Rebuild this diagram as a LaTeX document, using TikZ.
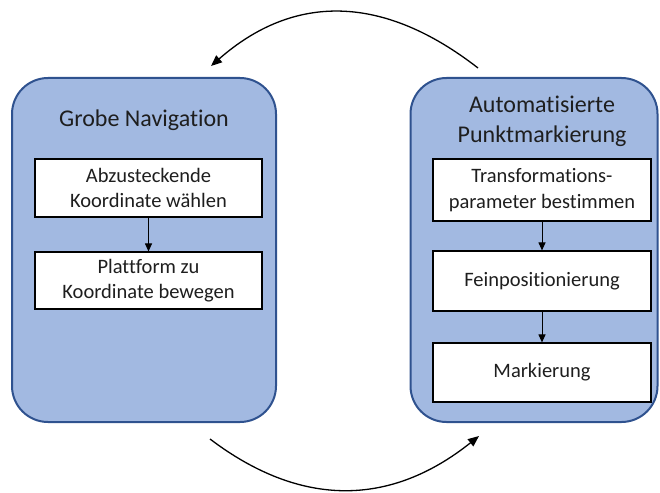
\documentclass[tikz,border=0pt]{standalone}
\usepackage{fontspec}
\setmainfont{Carlito}[Ligatures={NoCommon}]
\usetikzlibrary{arrows.meta}
\definecolor{contfill}{RGB}{162,185,225}
\definecolor{contdraw}{RGB}{47,82,143}
\definecolor{txt}{RGB}{30,30,30}
\tikzset{
  container/.style={draw=contdraw, line width=2pt, fill=contfill, rounded corners=36pt, inner sep=0pt},
  stepbox/.style={draw=black, line width=1.1pt, fill=white, inner sep=0pt, align=center, text=txt,
    font=\fontsize{20.5}{25.5}\selectfont},
  titletext/.style={align=center, text=txt, font=\fontsize{24}{30}\selectfont},
  inarrow/.style={draw=black, line width=1pt, -{Triangle[length=8pt,width=7pt]}},
  cyclearrow/.style={draw=black, line width=1.3pt, -{Triangle[length=11pt,width=9pt]}}
}
\begin{document}
\begin{tikzpicture}[x=1pt,y=-1pt]
\useasboundingbox (0,0) rectangle (660,492);
% containers
\node[container, minimum width=264pt, minimum height=344pt] (lc) at (144,250) {};
\node[container, minimum width=247pt, minimum height=344pt] (rc) at (534,250) {};
% titles
\node[titletext] (lt) at (144,120) {Grobe Navigation};
\node[titletext] (rt) at (542,121) {Automatisierte\\Punktmarkierung};
% left steps
\node[stepbox, minimum width=227pt, minimum height=58pt] (l1) at (148.5,188) {Abzusteckende\\Koordinate wählen};
\node[stepbox, minimum width=227pt, minimum height=57pt] (l2) at (148.5,280.5) {Plattform zu\\Koordinate bewegen};
\draw[inarrow] (l1) -- (l2);
% right steps
\node[stepbox, minimum width=218pt, minimum height=62pt] (r1) at (542,190) {Transformations-\\parameter bestimmen};
\node[stepbox, minimum width=218pt, minimum height=60pt] (r2) at (542,281) {Feinpositionierung};
\node[stepbox, minimum width=218pt, minimum height=59pt] (r3) at (542,372.5) {Markierung};
\draw[inarrow] (r1) -- (r2);
\draw[inarrow] (r2) -- (r3);
% cycle arrows
\coordinate (ts) at (478,68);
\coordinate (te) at (211,66);
\coordinate (bs) at (210,439);
\coordinate (be) at (479,436);
\draw[cyclearrow] (ts) .. controls (382.7,-6) and (294,-6.7) .. (te);
\draw[cyclearrow] (bs) .. controls (300.7,507.7) and (390,507) .. (be);
\end{tikzpicture}
\end{document}
